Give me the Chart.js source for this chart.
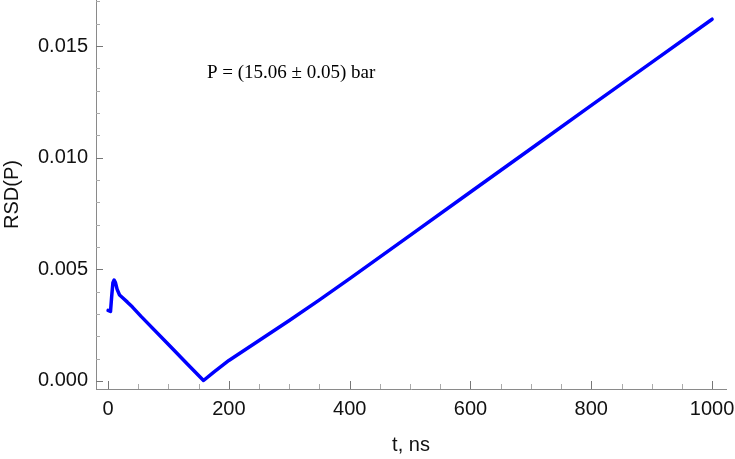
<!DOCTYPE html>
<html lang="en">
<head>
    <meta charset="UTF-8">
    <title>RSD(P) vs t</title>
    <style>
        html, body { margin: 0; padding: 0; background: white; }
        #wrap { width: 735px; height: 459px; }
    </style>
    <script src="https://cdn.jsdelivr.net/npm/chart.js"></script>
</head>
<body>
    <div id="wrap"><canvas id="myChart" width="735" height="459"></canvas></div>
    <script>
        // values
        const timeNs = [0, 4, 6, 8, 10, 12, 15, 19, 25, 32, 40, 55, 100, 130, 158, 175, 200, 250, 300, 350, 400, 500, 600, 700, 800, 900, 1000];
        const rsdValues = [0.00316, 0.00311, 0.0038, 0.0044, 0.00452, 0.00442, 0.0041, 0.00385, 0.0037, 0.00353, 0.00332, 0.00288, 0.00163, 0.00079, 0.00002, 0.0004, 0.00092, 0.00181, 0.00271, 0.00363, 0.00458, 0.00652, 0.00846, 0.0104, 0.01234, 0.01427, 0.0162];
        const xTicks = [0, 200, 400, 600, 800, 1000];
        const yTicks = [0, 0.005, 0.010, 0.015];
        const noteText = 'P = (15.06 \u00b1 0.05) bar';

        const points = timeNs.map((t, i) => ({ x: t, y: rsdValues[i] }));

        // Mathematica style inward ticks + the annotation
        const innerTicks = {
            id: 'innerTicks',
            afterDraw(chart) {
                const { ctx, chartArea, scales } = chart;
                const xs = scales.x, ys = scales.y;
                ctx.save();
                ctx.lineWidth = 1;
                for (let v = 0; v <= 1000; v += 50) {
                    const major = v % 200 === 0;
                    const px = Math.round(xs.getPixelForValue(v)) + 0.5;
                    ctx.strokeStyle = major ? '#777' : '#aaa';
                    ctx.beginPath();
                    ctx.moveTo(px, chartArea.bottom);
                    ctx.lineTo(px, chartArea.bottom - (major ? 8 : 5));
                    ctx.stroke();
                }
                for (let k = 0; k <= 17; k++) {
                    const v = k * 0.001;
                    const major = k % 5 === 0;
                    const py = Math.round(ys.getPixelForValue(v)) + 0.5;
                    ctx.strokeStyle = major ? '#777' : '#aaa';
                    ctx.beginPath();
                    ctx.moveTo(chartArea.left, py);
                    ctx.lineTo(chartArea.left + (major ? 7 : 4), py);
                    ctx.stroke();
                }
                ctx.fillStyle = '#000';
                ctx.font = '19px "Liberation Serif", "Times New Roman", serif';
                ctx.textAlign = 'center';
                ctx.textBaseline = 'middle';
                ctx.fillText(noteText, xs.getPixelForValue(303), ys.getPixelForValue(0.0138));
                ctx.restore();
            }
        };

        const labelFont = { family: '"Liberation Sans", Arial, sans-serif', size: 20 };

        const ctx = document.getElementById('myChart').getContext('2d');
        const myChart = new Chart(ctx, {
            type: 'line',
            data: {
                datasets: [{
                    data: points,
                    borderColor: '#0000ff',
                    borderWidth: 3.5,
                    borderJoinStyle: 'round',
                    borderCapStyle: 'round',
                    pointRadius: 0,
                    fill: false,
                    tension: 0
                }]
            },
            options: {
                responsive: false,
                animation: false,
                layout: { padding: { top: 0, right: 9, left: 0, bottom: 0 } },
                plugins: {
                    legend: { display: false },
                    tooltip: { enabled: false }
                },
                scales: {
                    x: {
                        type: 'linear',
                        min: -20,
                        max: 1023,
                        afterBuildTicks: s => { s.ticks = xTicks.map(v => ({ value: v })); },
                        afterFit: s => { s.height = 70; s.paddingLeft = 0; s.paddingRight = 0; },
                        grid: { drawOnChartArea: false, drawTicks: false },
                        border: { display: true, color: '#8a8a8a', width: 1 },
                        ticks: {
                            color: '#111',
                            font: labelFont,
                            padding: 8,
                            maxRotation: 0,
                            autoSkip: false,
                            callback: v => String(v)
                        },
                        title: {
                            display: true,
                            text: 't, ns',
                            color: '#111',
                            font: labelFont,
                            padding: { top: 0, bottom: 2 }
                        }
                    },
                    y: {
                        type: 'linear',
                        min: -0.00036,
                        max: 0.01706,
                        afterBuildTicks: s => { s.ticks = yTicks.map(v => ({ value: v })); },
                        afterFit: s => { s.width = 96; s.paddingTop = 0; s.paddingBottom = 0; },
                        grid: { drawOnChartArea: false, drawTicks: false },
                        border: { display: true, color: '#8a8a8a', width: 1 },
                        ticks: {
                            color: '#111',
                            font: labelFont,
                            padding: 8,
                            autoSkip: false,
                            callback: v => Number(v).toFixed(3)
                        },
                        title: {
                            display: true,
                            text: 'RSD(P)',
                            color: '#111',
                            font: labelFont,
                            padding: { top: 0, bottom: 0 }
                        }
                    }
                }
            },
            plugins: [innerTicks]
        });
    </script>
</body>
</html>
